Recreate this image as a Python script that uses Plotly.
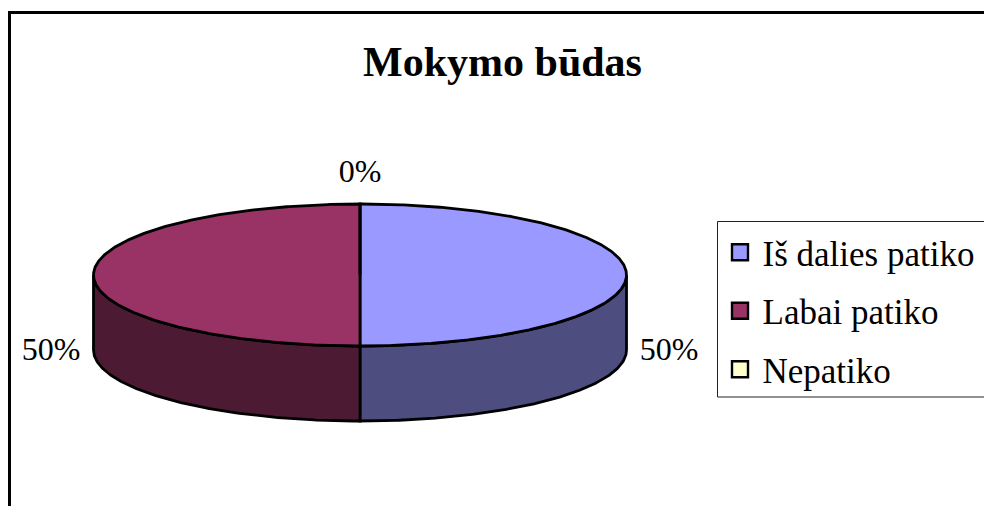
import numpy as np
import plotly.graph_objects as go

categories = ["Iš dalies patiko", "Labai patiko", "Nepatiko"]
values = [50, 50, 0]
top_colors = ["#9999FF", "#993366", "#FFFFCC"]
wall_colors = ["#4D4D80", "#4D1A33", "#808066"]
title_text = "Mokymo būdas"

W, H = 984, 506
CX, CY, RX, RY, DEPTH = 360, 275, 266.5, 71, 75
FONT = "Liberation Serif"
LINE = dict(color="black", width=2.8)


def arc(a0, a1, drop=0.0):
    t = np.linspace(a0, a1, max(2, int(abs(a1 - a0) * 2) + 2))
    r = np.radians(t)
    return CX + RX * np.sin(r), CY - RY * np.cos(r) + drop


fig = go.Figure()
total = sum(values)
spans = []
start = 0.0
for v in values:
    end = start + 360.0 * v / total
    spans.append((start, end))
    start = end

# visible side walls (front half of the rim)
for (a0, a1), col in zip(spans, wall_colors):
    lo, hi = max(a0, 90), min(a1, 270)
    if hi <= lo:
        continue
    xt, yt = arc(lo, hi)
    xb, yb = arc(hi, lo, DEPTH)
    fig.add_trace(go.Scatter(
        x=list(xt) + list(xb) + [xt[0]], y=list(yt) + list(yb) + [yt[0]],
        mode="lines", fill="toself", fillcolor=col, line=LINE,
        showlegend=False, hoverinfo="skip"))

# top faces
for (a0, a1), col in zip(spans, top_colors):
    xt, yt = arc(a0, a1)
    fig.add_trace(go.Scatter(
        x=[CX] + list(xt) + [CX], y=[CY] + list(yt) + [CY],
        mode="lines", fill="toself", fillcolor=col, line=LINE,
        showlegend=False, hoverinfo="skip"))

# percentage labels
lx, ly, lt = [], [], []
for (a0, a1), v in zip(spans, values):
    m = np.radians((a0 + a1) / 2)
    lx.append(CX + 309 * np.sin(m))
    ly.append(CY + 2 - 103 * np.cos(m) + DEPTH * np.sin(m) ** 2)
    lt.append(f"{round(100 * v / total)}%")
fig.add_trace(go.Scatter(
    x=lx, y=ly, text=lt, mode="text", textposition="middle center",
    textfont=dict(family=FONT, size=32, color="black"),
    showlegend=False, hoverinfo="skip"))

# legend entries
for name, col in zip(categories, top_colors):
    fig.add_trace(go.Scatter(
        x=[None], y=[None], mode="markers", name=name, legendgroup=name,
        marker=dict(symbol="square", size=17, color=col,
                    line=dict(color="black", width=2.4))))

fig.update_layout(
    width=W, height=H, autosize=False,
    margin=dict(l=0, r=0, t=0, b=0),
    paper_bgcolor="white", plot_bgcolor="white",
    xaxis=dict(range=[0, W], visible=False, fixedrange=True),
    yaxis=dict(range=[H, 0], visible=False, fixedrange=True),
    title=dict(text=f"<b>{title_text}</b>", x=502.5 / W, xanchor="center",
               y=1 - 61 / H, yanchor="middle",
               font=dict(family=FONT, size=42, color="black")),
    legend=dict(x=717.5 / W, xanchor="left", y=1 - 223 / H, yanchor="top",
                bgcolor="rgba(0,0,0,0)", borderwidth=0,
                font=dict(family=FONT, size=35, color="black"),
                tracegroupgap=10, itemwidth=35),
    shapes=[
        dict(type="line", xref="x", yref="y", x0=9.5, x1=W, y0=12.5, y1=12.5,
             line=dict(color="black", width=3), layer="below"),
        dict(type="line", xref="x", yref="y", x0=9.5, x1=9.5, y0=11, y1=H,
             line=dict(color="black", width=3), layer="below"),
        dict(type="rect", xref="x", yref="y", x0=717.5, x1=W + 10, y0=221.5, y1=397,
             line=dict(color="#222222", width=1), fillcolor="white", layer="below"),
    ],
)
fig.write_html("out.html", config={"displayModeBar": False},
               post_script="document.body.style.margin='0';document.body.style.overflow='hidden';")
